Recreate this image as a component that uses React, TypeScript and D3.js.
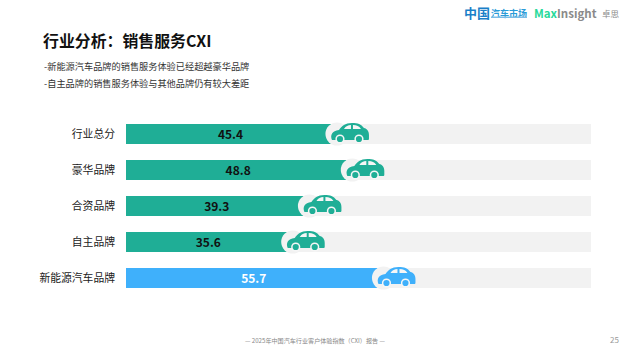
import React from "react";
import * as d3 from "d3";

const categories = ["行业总分", "豪华品牌", "合资品牌", "自主品牌", "新能源汽车品牌"];
const values = [45.4, 48.8, 39.3, 35.6, 55.7];
const colors = ["#1fae96", "#1fae96", "#1fae96", "#1fae96", "#3fb0fb"];
const labelColors = ["#111", "#111", "#111", "#111", "#fff"];
const bullets = ["-新能源汽车品牌的销售服务体验已经超越豪华品牌", "-自主品牌的销售服务体验与其他品牌仍有较大差距"];

const font = "'Noto Sans CJK SC','Open Sans',sans-serif";
const x = d3.scaleLinear().domain([0, 103]).range([126, 591]);
const y = d3.scaleBand().domain(categories).range([124, 288]).paddingInner(16 / 36).paddingOuter(0);

const carPath =
  "M1,6 C-1,1 1,-3 8,-4 C11,-8 14,-11 21,-11 C27,-11 30,-10 33,-6 C36,-5.5 38,-3 38,1 L38,5 C38,6 37,6 36,6 L2,6 Z";

function Car({ cx, cy, fill }: { cx: number; cy: number; fill: string }) {
  return (
    <g transform={`translate(${cx},${cy})`}>
      <circle cx={6} cy={0} r={11.5} fill="#f2f2f2" />
      <path d={carPath} fill={fill} />
      <path d="M13,-5 C15,-8 17,-9 20,-9 L20,-5 Z M22,-9 C26,-9 28,-8 30,-5 L22,-5 Z" fill="#f6f6f6" />
      {[9, 28].map((c) => (
        <g key={c}>
          <circle cx={c} cy={5} r={4.6} fill="#f6f6f6" />
          <circle cx={c} cy={5} r={3.1} fill={fill} />
        </g>
      ))}
    </g>
  );
}

export default function App() {
  return (
    <svg width={630} height={354} style={{ position: "fixed", left: 0, top: 0, background: "#fff" }} fontFamily={font}>
      <text x={43} y={47} fontSize={15.9} fontWeight={700} fill="#111">行业分析：销售服务CXI</text>
      {bullets.map((b, i) => (
        <text key={b} x={44} y={70 + i * 17} fontSize={9.2} fill="#333">{b}</text>
      ))}
      <text x={464} y={18} fontSize={13} fontWeight={700} fill="#1a7fc8">中国</text>
      <text x={491} y={16.5} fontSize={9} fontWeight={700} fill="#2a9bd8">汽车市场</text>
      <rect x={491} y={16.5} width={36} height={1.5} fill="#7cbde6" />
      <text x={534} y={17.5} fontSize={11.5} fontWeight={700} fill="#28d99a">Max<tspan fill="#8a8a8a">Insight</tspan></text>
      <text x={602} y={17} fontSize={8.5} fill="#8a8a8a">卓思</text>
      {categories.map((c, i) => {
        const by = y(c)!;
        const h = y.bandwidth();
        return (
          <g key={c}>
            <rect x={x(0)} y={by} width={x(103) - x(0)} height={h} fill="#f2f2f2" />
            <rect x={x(0)} y={by} width={x(values[i]) - x(0)} height={h} fill={colors[i]} />
            <Car cx={x(values[i])} cy={by + h / 2} fill={colors[i]} />
            <text x={115} y={by + h / 2 + 4} textAnchor="end" fontSize={10.8} fill="#222">{c}</text>
            <text x={(x(0) + x(values[i])) / 2 + 2} y={by + h / 2 + 4.5} textAnchor="middle" fontSize={12} fontWeight={700} fill={labelColors[i]}>{values[i].toFixed(1)}</text>
          </g>
        );
      })}
      <text x={315} y={343} textAnchor="middle" fontSize={6.1} fill="#888">— 2025年中国汽车行业客户体验指数（CXI）报告 —</text>
      <text x={610} y={343} fontSize={8} fill="#999">25</text>
    </svg>
  );
}
